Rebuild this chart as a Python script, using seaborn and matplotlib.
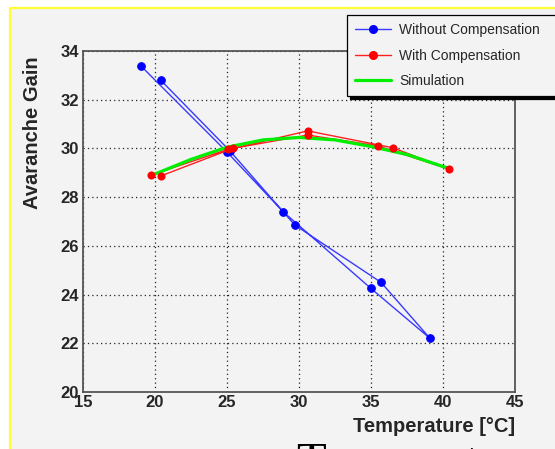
import numpy as np
import pandas as pd
import matplotlib
matplotlib.use("Agg")
import matplotlib.pyplot as plt
import seaborn as sns
from matplotlib.lines import Line2D
from matplotlib.ticker import MultipleLocator

# Measured gain, in the order the points were taken (heating then cooling)
TEMP_WITHOUT = [19.0, 25.0, 28.9, 35.0, 39.1, 35.7, 29.7, 25.2, 20.4]
GAIN_WITHOUT = [33.4, 29.85, 27.4, 24.25, 22.2, 24.5, 26.86, 29.9, 32.8]

TEMP_WITH = [19.7, 25.1, 30.6, 35.5, 40.4, 36.5, 30.6, 25.4, 20.4]
GAIN_WITH = [28.9, 29.97, 30.55, 30.1, 29.15, 30.03, 30.72, 30.0, 28.87]

TEMP_SIM = [20.0, 22.5, 25.0, 27.5, 30.0, 32.5, 35.0, 37.5, 40.4]
GAIN_SIM = [28.95, 29.55, 30.05, 30.35, 30.45, 30.35, 30.08, 29.75, 29.18]

LABELS = ["Without Compensation", "With Compensation", "Simulation"]

BG = "#f3f3f3"
W, H = 555, 449


def px_x(x):
    return x / W


def px_y(y):
    return 1 - y / H


def make_frames():
    without = pd.DataFrame({"temp": TEMP_WITHOUT, "gain": GAIN_WITHOUT})
    withc = pd.DataFrame({"temp": TEMP_WITH, "gain": GAIN_WITH})
    sim = pd.DataFrame({"temp": TEMP_SIM, "gain": GAIN_SIM})
    return without, withc, sim


def plot_results(without, withc, sim):
    sns.set_style("white")
    plt.rcParams["font.family"] = ["Liberation Sans", "DejaVu Sans"]

    # slide background; white strip outside the yellow border
    fig = plt.figure(figsize=(W / 100, H / 100), dpi=100, facecolor=BG)
    fig.patches.append(plt.Rectangle((0, 0), px_x(10), 1, transform=fig.transFigure,
                                     facecolor="white", edgecolor="none", zorder=-1))
    fig.patches.append(plt.Rectangle((0, px_y(8)), 1, 1, transform=fig.transFigure,
                                     facecolor="white", edgecolor="none", zorder=-1))
    fig.add_artist(Line2D([px_x(10), px_x(10)], [0, px_y(8)], color="#ffff33", lw=1.6))
    fig.add_artist(Line2D([px_x(10), 1], [px_y(8), px_y(8)], color="#ffff33", lw=1.6))

    ax = fig.add_axes([px_x(83), px_y(392), (515 - 83) / W, (392 - 51) / H])
    ax.set_facecolor(BG)

    sns.lineplot(data=without, x="temp", y="gain", sort=False, estimator=None, ax=ax,
                 color="#3a3aff", lw=1, marker="o", markersize=5.5,
                 markerfacecolor="#0000ff", markeredgecolor="#0000ff", zorder=3)
    sns.lineplot(data=withc, x="temp", y="gain", sort=False, estimator=None, ax=ax,
                 color="#ff2020", lw=1, zorder=3)
    sns.lineplot(data=sim, x="temp", y="gain", sort=False, estimator=None, ax=ax,
                 color="#00ee00", lw=2.3, zorder=4)
    sns.scatterplot(data=withc, x="temp", y="gain", ax=ax, color="#ff0000", s=34,
                    edgecolor="#ff0000", linewidth=0, zorder=5)

    ax.set_xlim(15, 45)
    ax.set_ylim(20, 34)
    ax.xaxis.set_major_locator(MultipleLocator(5))
    ax.yaxis.set_major_locator(MultipleLocator(2))
    ax.yaxis.set_minor_locator(MultipleLocator(1))
    ax.tick_params(axis="both", which="both", direction="in", color="#444444", width=1)
    ax.tick_params(axis="x", which="major", length=7.2, pad=2.5)
    ax.tick_params(axis="y", which="major", length=10, pad=3)
    ax.tick_params(axis="y", which="minor", length=5)
    for lab in ax.get_xticklabels() + ax.get_yticklabels():
        lab.set_fontsize(12)
        lab.set_fontweight("bold")
    ax.grid(True, which="major", color="#222222", linestyle=(0, (1, 2.5)), lw=0.9)

    for sp in ax.spines.values():
        sp.set_color("#555555")
        sp.set_linewidth(1.3)

    ax.set_xlabel("Temperature [°C]", fontsize=14.5, fontweight="bold", ha="right")
    ax.xaxis.set_label_coords(1.0, -0.072)
    ax.set_ylabel("Avaranche Gain", fontsize=14.5, fontweight="bold", loc="top")
    ax.yaxis.set_label_coords(-0.094, 0.983)

    handles = [
        Line2D([], [], color="#3a3aff", lw=1, marker="o", ms=5.5,
               markerfacecolor="#0000ff", markeredgecolor="#0000ff"),
        Line2D([], [], color="#ff2020", lw=1, marker="o", ms=5.5,
               markerfacecolor="#ff0000", markeredgecolor="#ff0000"),
        Line2D([], [], color="#00ee00", lw=2.3),
    ]
    leg = fig.legend(handles, LABELS, loc="upper left",
                     bbox_to_anchor=(px_x(347), px_y(96), 0.4, px_y(15) - px_y(96)),
                     bbox_transform=fig.transFigure, mode="expand",
                     fontsize=10, frameon=True, fancybox=False,
                     shadow={"color": "black", "alpha": 1},
                     handlelength=2.6, handletextpad=0.55, labelspacing=0.82,
                     borderpad=0.6, borderaxespad=0)
    leg.get_frame().set_facecolor(BG)
    leg.get_frame().set_edgecolor("black")
    leg.get_frame().set_linewidth(0.9)
    leg.get_frame().set_alpha(1)

    # slide title peeking in at the bottom edge
    fig.text(px_x(296), px_y(442), "Temperature", fontsize=35,
             family="Liberation Serif", va="top", ha="left", color="black")

    fig.savefig("out.png", dpi=100, facecolor=BG)


def main():
    without, withc, sim = make_frames()
    plot_results(without, withc, sim)


if __name__ == "__main__":
    main()
